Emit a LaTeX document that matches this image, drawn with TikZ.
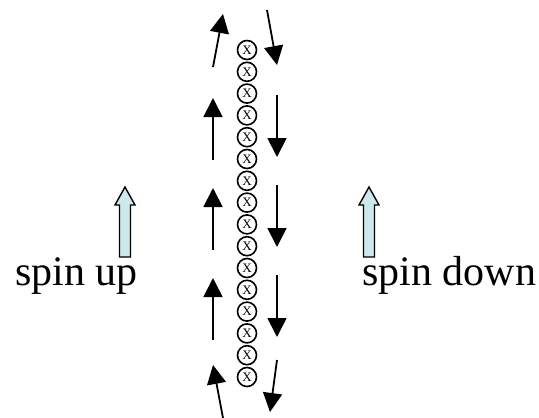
\documentclass[tikz,border=0pt]{standalone}
\usepackage{fontspec}
\setmainfont{Liberation Serif}
\usetikzlibrary{arrows.meta}
\definecolor{spincyan}{RGB}{204,232,234}
\begin{document}
\begin{tikzpicture}[x=1pt,y=-1pt,
  blackarrow/.style={line width=1.8pt,-{Triangle[length=19pt,width=19pt]}},
  fluxcircle/.style={circle,draw,line width=1.6pt,minimum size=19pt,inner sep=0pt,font=\fontsize{13}{13}\selectfont},
  spinarrow/.style={draw,line width=1.4pt,fill=spincyan,line join=miter},
  spinlabel/.style={anchor=base west,inner sep=0pt,font=\fontsize{42}{42}\selectfont}]
\useasboundingbox (0,0) rectangle (539,418);
% column of flux circles
\foreach \k in {0,...,15}{
  \node[fluxcircle] (c\k) at (247,{50+\k*21.8}) {X};
}
% left side arrows (up)
\coordinate (l1a) at (213,67);  \coordinate (l1b) at (223,14);
\coordinate (l2a) at (213,160); \coordinate (l2b) at (213,98);
\coordinate (l3a) at (213,250); \coordinate (l3b) at (213,188);
\coordinate (l4a) at (213,340); \coordinate (l4b) at (213,278);
\coordinate (l5a) at (223,418); \coordinate (l5b) at (213,365);
% right side arrows (down)
\coordinate (r1a) at (267,10);  \coordinate (r1b) at (277,65);
\coordinate (r2a) at (277,95);  \coordinate (r2b) at (277,157);
\coordinate (r3a) at (277,185); \coordinate (r3b) at (277,247);
\coordinate (r4a) at (277,275); \coordinate (r4b) at (277,337);
\coordinate (r5a) at (277,360); \coordinate (r5b) at (270,412);
\foreach \s in {l1,l2,l3,l4,l5,r1,r2,r3,r4,r5}{
  \draw[blackarrow] (\s a) -- (\s b);
}
% spin arrows (hollow cyan)
\draw[spinarrow] (119.5,257) -- (119.5,205) -- (115,205) -- (125,187) -- (135,205) -- (130.5,205) -- (130.5,257) -- cycle;
\draw[spinarrow] (363.5,257) -- (363.5,205) -- (359,205) -- (369,187) -- (379,205) -- (374.5,205) -- (374.5,257) -- cycle;
% labels
\node[spinlabel] (up) at (15,285) {spin up};
\node[spinlabel] (down) at (362,285) {spin down};
\end{tikzpicture}
\end{document}
